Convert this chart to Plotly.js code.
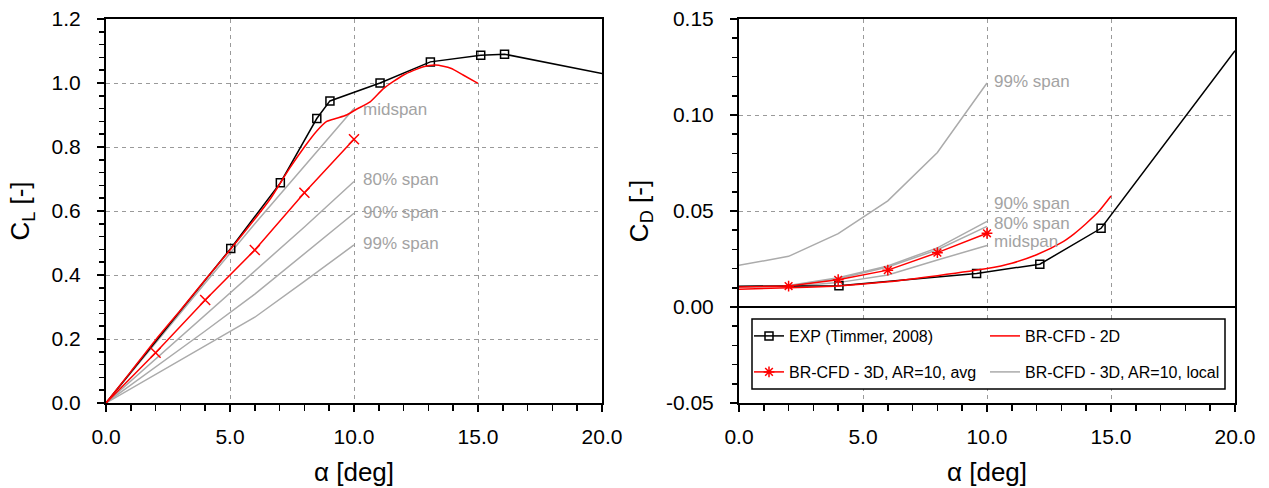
<!DOCTYPE html>
<html>
<head>
<meta charset="utf-8">
<script src="https://cdn.plot.ly/plotly-3.0.1.min.js"></script>
<style>html,body{margin:0;padding:0;background:#fff;}#chart{width:1269px;height:488px;}</style>
</head>
<body>
<div id="chart"></div>
<script>
// ---------------- Lift coefficient (left panel) ----------------
const expClAlpha = [0, 5.03, 7.03, 8.5, 9.03, 11.05, 13.08, 15.11, 16.07, 20];
const expClVal   = [0, 0.483, 0.688, 0.889, 0.944, 1.0, 1.066, 1.087, 1.09, 1.03];
const expClMarked = [1, 2, 3, 4, 5, 6, 7, 8];

const cfd2dClAlpha = [0, 1, 2, 3, 4, 5, 6, 6.6, 7.4, 8.0, 8.5, 8.9, 9.3, 9.7, 10.1, 10.65, 11.2, 12.0, 12.8, 13.3, 13.9, 14.4, 15.0];
const cfd2dClVal   = [0, 0.098, 0.197, 0.29, 0.385, 0.478, 0.575, 0.635, 0.733, 0.80, 0.85, 0.88, 0.89, 0.90, 0.918, 0.941, 0.983, 1.025, 1.051, 1.056, 1.046, 1.025, 0.999];

const cfd3dAlpha = [0, 2, 4, 6, 8, 10];
const cfd3dMarked = [1, 2, 3, 4, 5];
const avgClVal   = [0, 0.157, 0.322, 0.478, 0.657, 0.824];
const midClVal   = [0, 0.188, 0.375, 0.56, 0.74, 0.92];
const s80ClVal   = [0, 0.137, 0.275, 0.41, 0.55, 0.692];
const s90ClVal   = [0, 0.112, 0.225, 0.34, 0.465, 0.593];
const s99ClVal   = [0, 0.09, 0.18, 0.268, 0.38, 0.494];

// ---------------- Drag coefficient (right panel) ----------------
const expCdAlpha = [0, 4.03, 9.58, 12.13, 14.6, 20];
const expCdVal   = [0.0108, 0.0111, 0.0175, 0.0223, 0.041, 0.1335];
const expCdMarked = [1, 2, 3, 4];

const cfd2dCdAlpha = [0, 2, 4, 6, 8, 10, 11, 12, 13, 13.5, 14, 14.5, 15];
const cfd2dCdVal   = [0.0093, 0.0100, 0.0110, 0.0131, 0.0163, 0.0200, 0.0228, 0.0272, 0.0335, 0.038, 0.0435, 0.0497, 0.0578];

const avgCdVal = [0.0104, 0.0109, 0.0142, 0.0192, 0.0283, 0.0384];
const midCdVal = [0.0105, 0.0107, 0.0127, 0.0167, 0.0245, 0.032];
const s80CdVal = [0.0106, 0.011, 0.0147, 0.0208, 0.0298, 0.042];
const s90CdVal = [0.0106, 0.0112, 0.0152, 0.0214, 0.0308, 0.0446];
const s99CdVal = [0.0217, 0.0264, 0.0382, 0.0553, 0.0805, 0.1167];

// labels
const spanLabels = ['midspan', '80% span', '90% span', '99% span'];
const clLabelY = [0.918, 0.697, 0.594, 0.50];
const cdLabelY = [0.034, 0.0436, 0.054, 0.1177];
const cdTickVals = [-0.05, 0, 0.05, 0.10, 0.15];
const cdTickText = ['-0.05', '0.00', '0.05', '0.10', '0.15'];
const legendNames = ['EXP (Timmer, 2008)', 'BR-CFD - 2D', 'BR-CFD - 3D, AR=10, avg', 'BR-CFD - 3D, AR=10, local'];

const RED = '#ff0000', GRAY = '#ababab', BLACK = '#000000';
const FONT = 'Liberation Sans, Arial, Helvetica, sans-serif';

function grayTrace(xa, ya, x, y, showleg) {
  return {x: x, y: y, xaxis: xa, yaxis: ya, type: 'scatter', mode: 'lines',
          line: {color: GRAY, width: 1.5}, name: legendNames[3],
          showlegend: !!showleg, legend: 'legend2', legendrank: 2, hoverinfo: 'skip'};
}

const data = [];
// left panel
[midClVal, s80ClVal, s90ClVal, s99ClVal].forEach(v => data.push(grayTrace('x', 'y', cfd3dAlpha, v, false)));
data.push({x: expClAlpha, y: expClVal, xaxis: 'x', yaxis: 'y', type: 'scatter', mode: 'lines+markers',
  line: {color: BLACK, width: 1.5}, marker: {symbol: 'square-open', size: 8, color: BLACK, line: {width: 1.5, color: BLACK}},
  selectedpoints: expClMarked, selected: {marker: {opacity: 1}}, unselected: {marker: {opacity: 0}},
  showlegend: false, name: legendNames[0]});
data.push({x: cfd2dClAlpha, y: cfd2dClVal, xaxis: 'x', yaxis: 'y', type: 'scatter', mode: 'lines',
  line: {color: RED, width: 1.5, shape: 'spline', smoothing: 0.6}, showlegend: false, name: legendNames[1]});
data.push({x: cfd3dAlpha, y: avgClVal, xaxis: 'x', yaxis: 'y', type: 'scatter', mode: 'lines+markers',
  line: {color: RED, width: 1.5}, marker: {symbol: 'x-thin-open', size: 10, color: RED, line: {width: 1.5, color: RED}},
  selectedpoints: cfd3dMarked, selected: {marker: {opacity: 1}}, unselected: {marker: {opacity: 0}},
  showlegend: false, name: legendNames[2]});
// right panel
[midCdVal, s80CdVal, s90CdVal, s99CdVal].forEach((v, i) => data.push(grayTrace('x2', 'y2', cfd3dAlpha, v, i === 0)));
data.push({x: expCdAlpha, y: expCdVal, xaxis: 'x2', yaxis: 'y2', type: 'scatter', mode: 'lines+markers',
  line: {color: BLACK, width: 1.5}, marker: {symbol: 'square-open', size: 8, color: BLACK, line: {width: 1.5, color: BLACK}},
  selectedpoints: expCdMarked, selected: {marker: {opacity: 1}}, unselected: {marker: {opacity: 0}},
  showlegend: true, legend: 'legend', name: legendNames[0]});
data.push({x: cfd2dCdAlpha, y: cfd2dCdVal, xaxis: 'x2', yaxis: 'y2', type: 'scatter', mode: 'lines',
  line: {color: RED, width: 1.5, shape: 'spline', smoothing: 0.6}, showlegend: true, legend: 'legend', name: legendNames[1]});
data.push({x: cfd3dAlpha, y: avgCdVal, xaxis: 'x2', yaxis: 'y2', type: 'scatter', mode: 'lines+markers',
  line: {color: RED, width: 1.5}, marker: {symbol: 'asterisk-open', size: 9, color: RED, line: {width: 1.5, color: RED}},
  selectedpoints: cfd3dMarked, selected: {marker: {opacity: 1}}, unselected: {marker: {opacity: 0}},
  showlegend: true, legend: 'legend2', legendrank: 1, name: legendNames[2]});

const baseX = {
  range: [0, 20], dtick: 5, tick0: 0, tickformat: '.1f', ticks: 'outside', ticklen: 7, tickwidth: 1.5, tickcolor: BLACK,
  showline: true, linewidth: 2, linecolor: BLACK, mirror: true,
  showgrid: true, gridcolor: '#9a9a9a', gridwidth: 1, griddash: '4px,4px', zeroline: false,
  minor: {dtick: 1, tick0: 0, ticks: 'outside', ticklen: 6, tickwidth: 1.5, tickcolor: BLACK, showgrid: false},
  tickfont: {size: 21, color: BLACK, family: FONT}, ticklabelstandoff: 7,
  title: {text: 'α [deg]', font: {size: 26, color: BLACK, family: FONT}, standoff: 16}, fixedrange: true
};
const baseY = {
  ticks: 'outside', ticklen: 7, tickwidth: 1.5, tickcolor: BLACK,
  showline: true, linewidth: 2, linecolor: BLACK, mirror: true,
  showgrid: true, gridcolor: '#9a9a9a', gridwidth: 1, griddash: '4px,4px',
  tickfont: {size: 21, color: BLACK, family: FONT}, ticklabelstandoff: 12, fixedrange: true
};

const pxX = p => p / 1269;
const pxY = p => (403 - p) / 384;

const annotations = [];
spanLabels.forEach((t, i) => {
  annotations.push({xref: 'x', yref: 'y', x: 10.3, y: clLabelY[i], text: t, showarrow: false,
    xanchor: 'left', yanchor: 'middle', font: {size: 17, color: '#a3a3a3', family: FONT}});
  annotations.push({xref: 'x2', yref: 'y2', x: 10.2, y: cdLabelY[i], text: t, showarrow: false,
    xanchor: 'left', yanchor: 'middle', font: {size: 17, color: '#a3a3a3', family: FONT}});
});

const layout = {
  width: 1269, height: 488,
  margin: {l: 0, r: 0, t: 19, b: 85},
  paper_bgcolor: '#ffffff', plot_bgcolor: '#ffffff',
  font: {family: FONT, color: BLACK},
  showlegend: true,
  xaxis: Object.assign({}, baseX, {domain: [pxX(106), pxX(602)], anchor: 'y'}),
  yaxis: Object.assign({}, baseY, {range: [0, 1.2], dtick: 0.2, tick0: 0, tickformat: '.1f', zeroline: false, anchor: 'x',
    minor: {dtick: 0.04, tick0: 0, ticks: 'outside', ticklen: 5, tickwidth: 1.5, tickcolor: BLACK, showgrid: false},
    title: {text: 'C<sub>L</sub> [-]', font: {size: 26, color: BLACK, family: FONT}, standoff: 14}}),
  xaxis2: Object.assign({}, baseX, {domain: [pxX(739), pxX(1235)], anchor: 'y2'}),
  yaxis2: Object.assign({}, baseY, {range: [-0.05, 0.15], tickmode: 'array', tickvals: cdTickVals, ticktext: cdTickText,
    zeroline: true, zerolinecolor: BLACK, zerolinewidth: 1.2, anchor: 'x2',
    minor: {dtick: 0.01, tick0: 0, ticks: 'outside', ticklen: 5, tickwidth: 1.5, tickcolor: BLACK, showgrid: false},
    title: {text: 'C<sub>D</sub> [-]', font: {size: 26, color: BLACK, family: FONT}, standoff: 10}}),
  legend: {orientation: 'h', x: pxX(749), y: pxY(336), xanchor: 'left', yanchor: 'middle',
    entrywidth: 191, entrywidthmode: 'pixels', bgcolor: 'rgba(0,0,0,0)', borderwidth: 0,
    font: {size: 16, color: BLACK, family: FONT}, itemclick: false, itemdoubleclick: false},
  legend2: {orientation: 'h', x: pxX(749), y: pxY(372), xanchor: 'left', yanchor: 'middle',
    entrywidth: 191, entrywidthmode: 'pixels', bgcolor: 'rgba(0,0,0,0)', borderwidth: 0,
    font: {size: 16, color: BLACK, family: FONT}, itemclick: false, itemdoubleclick: false},
  shapes: [{type: 'rect', xref: 'paper', yref: 'paper', x0: pxX(752), x1: pxX(1225), y0: pxY(389), y1: pxY(319),
    line: {color: BLACK, width: 1.5}, fillcolor: '#ffffff', layer: 'above'}],
  annotations: annotations
};

Plotly.newPlot('chart', data, layout, {displayModeBar: false, staticPlot: true});
</script>
</body>
</html>
